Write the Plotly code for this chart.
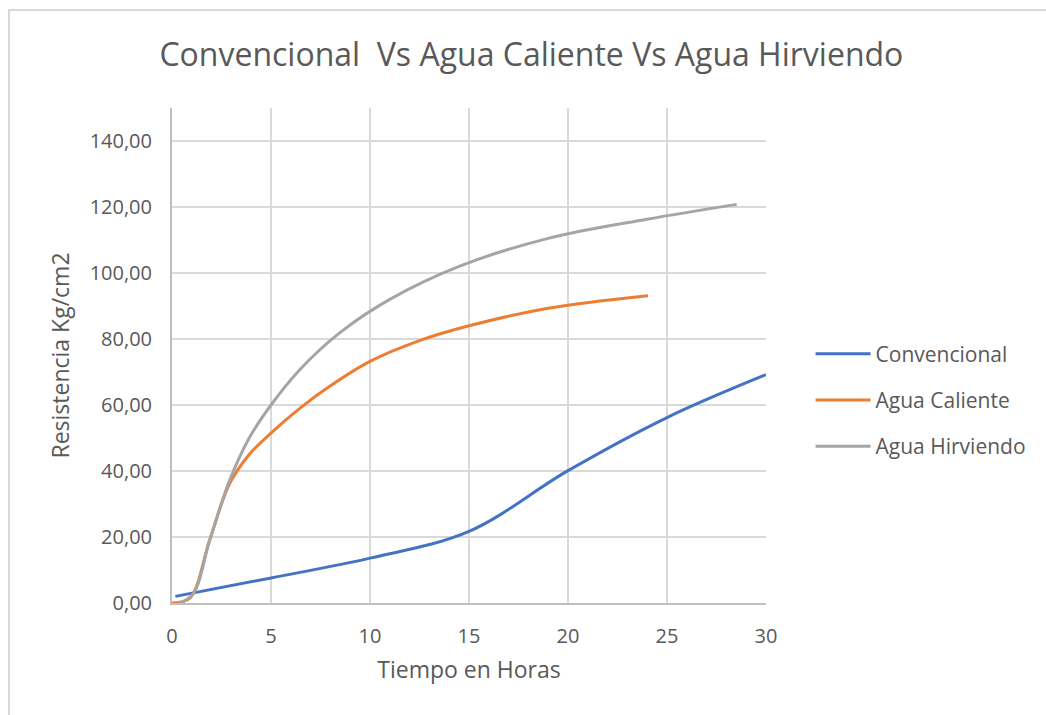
import plotly.graph_objects as go

# Hours and strength (Kg/cm2) for each curing method
conv_x = [0.17, 5, 10, 15, 20, 25, 30]
conv_y = [2.0, 7.6, 13.6, 21.7, 40.1, 56.2, 69.2]

cal_x = [0.0, 0.9, 1.9, 2.9, 3.9, 5.0, 6.5, 8.0, 10.0, 12.5, 15.0, 19.0, 24.04]
cal_y = [0.0, 1.5, 19.0, 36.0, 45.0, 51.5, 59.2, 65.8, 73.2, 79.5, 84.0, 89.3, 93.1]

hir_x = [0.4, 1.1, 1.9, 2.9, 3.9, 5.0, 6.5, 8.5, 11.0, 14.5, 19.0, 24.0, 28.52]
hir_y = [0.0, 3.0, 19.0, 37.0, 50.0, 60.0, 71.0, 82.0, 92.0, 102.0, 110.5, 116.3, 120.8]

y_ticks = [0, 20, 40, 60, 80, 100, 120, 140]
y_labels = ["0,00", "20,00", "40,00", "60,00", "80,00", "100,00", "120,00", "140,00"]
x_ticks = [0, 5, 10, 15, 20, 25, 30]

TEXT = "#595959"
GRID = "#D9D9D9"
FONT = "Open Sans, Noto Sans, sans-serif"

fig = go.Figure()
series = [
    ("Convencional", conv_x, conv_y, "#4472C4"),
    ("Agua Caliente", cal_x, cal_y, "#ED7D31"),
    ("Agua Hirviendo", hir_x, hir_y, "#A5A5A5"),
]
for name, xs, ys, color in series:
    fig.add_trace(go.Scatter(
        x=xs, y=ys, name=name, legendgroup=name, mode="lines",
        line=dict(color=color, width=3, shape="spline", smoothing=1.0),
    ))

fig.update_layout(
    width=1046, height=715,
    margin=dict(l=172, r=280, t=108, b=112),
    paper_bgcolor="white", plot_bgcolor="white",
    font=dict(family=FONT, color=TEXT),
    title=dict(
        text="Convencional  Vs Agua Caliente Vs Agua Hirviendo",
        x=0.508, xref="container", xanchor="center",
        y=1 - 55 / 715, yanchor="middle",
        font=dict(size=32, color=TEXT, family=FONT),
    ),
    legend=dict(
        x=1.075, xanchor="left", y=(603 - 400) / 495, yanchor="middle",
        font=dict(size=21, color=TEXT), tracegroupgap=16,
        itemwidth=55, bgcolor="rgba(0,0,0,0)",
    ),
    showlegend=True,
)
fig.update_xaxes(
    range=[0, 30], tickvals=x_ticks, ticks="",
    showgrid=True, gridcolor=GRID, gridwidth=2,
    showline=True, linecolor="#BFBFBF", linewidth=2,
    zeroline=False, ticklabelstandoff=14,
    tickfont=dict(size=20, color=TEXT),
    title=dict(text="Tiempo en Horas", font=dict(size=23, color=TEXT), standoff=14),
)
fig.update_yaxes(
    range=[0, 150], tickvals=y_ticks, ticktext=y_labels, ticks="",
    showgrid=True, gridcolor=GRID, gridwidth=2,
    showline=True, linecolor="#BFBFBF", linewidth=2,
    zeroline=False, ticklabelstandoff=14,
    tickfont=dict(size=20, color=TEXT),
    title=dict(text="Resistencia Kg/cm2", font=dict(size=23, color=TEXT), standoff=14),
)

# Outer chart frame (only left and top edges fall inside the page)
fig.add_shape(type="rect", xref="paper", yref="paper",
              x0=(9 - 172) / 594, x1=1.6, y0=-0.4, y1=(603 - 10) / 495,
              line=dict(color="#D9D9D9", width=2), layer="below")

fig.write_html("out.html")
